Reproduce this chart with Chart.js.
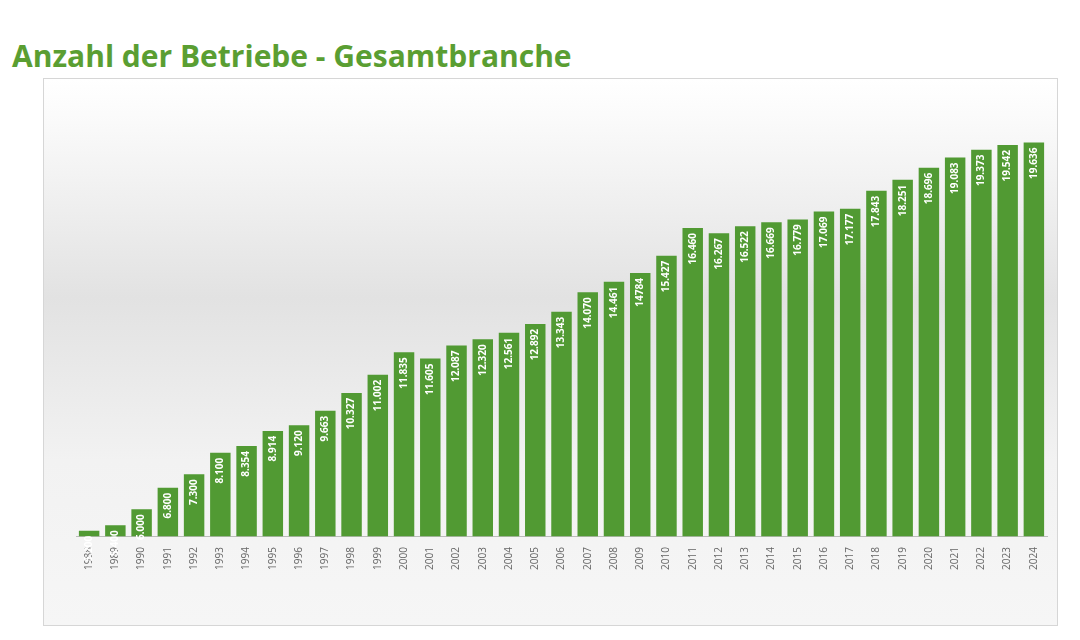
<!DOCTYPE html>
<html>
<head>
<meta charset="utf-8">
<script src="https://cdn.jsdelivr.net/npm/chart.js@4"></script>
<style>
    body { margin: 0; width: 1080px; height: 640px; background: #fff; position: relative; overflow: hidden; font-family: 'Open Sans', sans-serif; }
    h1 { position: absolute; left: 12px; top: 35px; margin: 0; font-size: 30px; font-weight: bold; color: #5a9e32; }
    .panel {
        position: absolute; left: 43px; top: 78px; width: 1013px; height: 546px;
        border: 1px solid #d6d6d6;
        background: linear-gradient(to bottom, #fff 0%, #fafafa 8%, #e2e2e2 40%, #f2f2f2 70%, #f6f6f6 100%);
    }
</style>
</head>
<body>
<h1>Anzahl der Betriebe - Gesamtbranche</h1>
<div class="panel"><canvas id="chart"></canvas></div>
<script>
const years = ['1988','1989','1990','1991','1992','1993','1994','1995','1996','1997','1998','1999','2000','2001','2002','2003','2004','2005','2006','2007','2008','2009','2010','2011','2012','2013','2014','2015','2016','2017','2018','2019','2020','2021','2022','2023','2024'];
const betriebe = [5200,5400,6000,6800,7300,8100,8354,8914,9120,9663,10327,11002,11835,11605,12087,12320,12561,12892,13343,14070,14461,14784,15427,16460,16267,16522,16669,16779,17069,17177,17843,18251,18696,19083,19373,19542,19636];
const valueLabels = ['5.200','5.400','6.000','6.800','7.300','8.100','8.354','8.914','9.120','9.663','10.327','11.002','11.835','11.605','12.087','12.320','12.561','12.892','13.343','14.070','14.461','14784','15.427','16.460','16.267','16.522','16.669','16.779','17.069','17.177','17.843','18.251','18.696','19.083','19.373','19.542','19.636'];

// Rotated value labels: inside the bar, or black across the top of short bars
const barLabels = {
    id: 'barLabels',
    afterDatasetsDraw(chart) {
        const ctx = chart.ctx;
        const meta = chart.getDatasetMeta(0);
        ctx.save();
        ctx.font = "bold 10px 'Open Sans', sans-serif";
        ctx.textBaseline = 'middle';
        meta.data.forEach((bar, i) => {
            const text = valueLabels[i];
            const w = ctx.measureText(text).width;
            const inside = bar.base - bar.y > w + 10;
            ctx.save();
            ctx.translate(bar.x, bar.y);
            ctx.rotate(-Math.PI / 2);
            if (inside) {
                ctx.fillStyle = '#fff';
                ctx.textAlign = 'right';
                ctx.fillText(text, -5, 0);
            } else {
                ctx.fillStyle = '#000';
                ctx.textAlign = 'center';
                ctx.fillText(text, 4, 0);
            }
            ctx.restore();
        });
        ctx.restore();
    }
};

const canvas = document.getElementById('chart');
canvas.width = 1013; canvas.height = 546;
new Chart(canvas.getContext('2d'), {
    type: 'bar',
    data: {
        labels: years,
        datasets: [{
            data: betriebe,
            backgroundColor: '#519a33',
            borderWidth: 0,
            barPercentage: 0.78,
            categoryPercentage: 1
        }]
    },
    options: {
        responsive: false,
        animation: false,
        layout: { padding: { left: 32, right: 10, top: 0, bottom: 52 } },
        scales: {
            x: {
                grid: { display: false },
                border: { color: '#bbb' },
                ticks: { minRotation: 90, maxRotation: 90, autoSkip: false, color: '#666', font: { family: "'Open Sans', sans-serif", size: 10 } }
            },
            y: { display: false, min: 5000, max: 22000 }
        },
        plugins: { legend: { display: false }, tooltip: { enabled: false } }
    },
    plugins: [barLabels]
});
</script>
</body>
</html>
